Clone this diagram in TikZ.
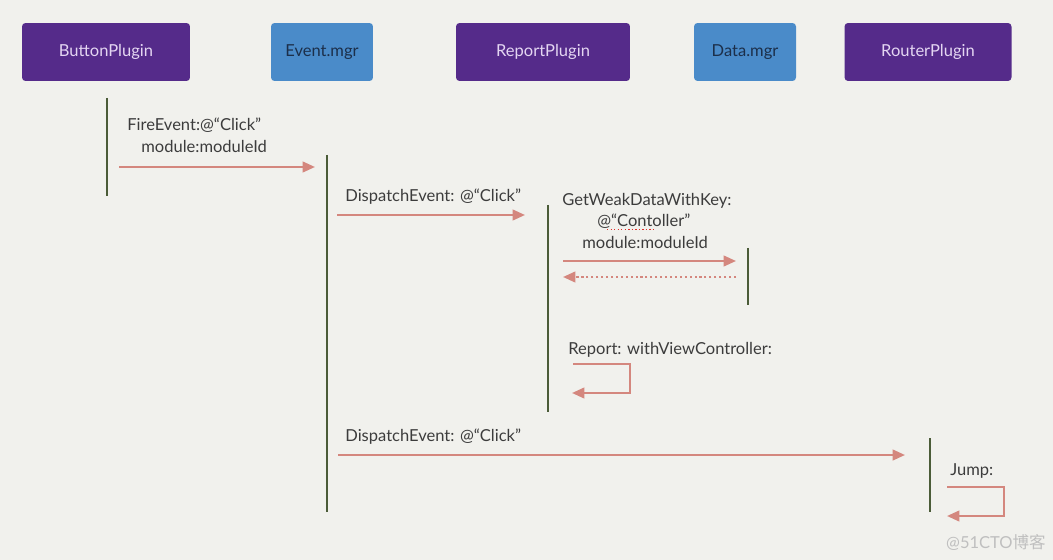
\documentclass[tikz,border=0pt]{standalone}
\usepackage{fontspec}
\setmainfont{Lato}
\newfontfamily\cjk{Noto Sans CJK SC}
\usetikzlibrary{arrows.meta}

\definecolor{paper}{HTML}{F1F1ED}
\definecolor{plugin}{HTML}{552B8A}
\definecolor{pluginText}{HTML}{E4D6F2}
\definecolor{mgr}{HTML}{4A8BC9}
\definecolor{mgrText}{HTML}{1C2F4A}
\definecolor{life}{HTML}{4B5C38}
\definecolor{msg}{HTML}{D4877E}
\definecolor{txt}{HTML}{3C3C3C}
\definecolor{spell}{HTML}{E0302A}

\tikzset{
  plugin box/.style={rectangle, rounded corners=2pt, fill=plugin, text=pluginText, minimum height=1.16cm},
  mgr box/.style={rectangle, rounded corners=2pt, fill=mgr, text=mgrText, minimum height=1.16cm, minimum width=2.04cm},
  lifeline/.style={draw=life, line width=1.3pt},
  call/.style={draw=msg, line width=1.3pt, -{Triangle[length=7pt, width=6pt]}},
  reply/.style={call, dash pattern=on 1.2pt off 1.6pt},
  label/.style={text=txt, anchor=west, inner sep=0pt}
}

\begin{document}
\begin{tikzpicture}[x=0.02cm, y=-0.02cm, font=\fontsize{9.4}{11}\selectfont]

\fill[paper] (0,0) rectangle (1053,560);

% participants
\node[plugin box, minimum width=3.36cm] (button) at (106,52) {ButtonPlugin};
\node[mgr box] (event) at (322,52) {Event.mgr};
\node[plugin box, minimum width=3.48cm] (report) at (543,52) {ReportPlugin};
\node[mgr box] (data) at (745,52) {Data.mgr};
\node[plugin box, minimum width=3.34cm] (router) at (928,52) {RouterPlugin};

% activation bars
\coordinate (b1) at (107,98);   \coordinate (b2) at (107,196);
\coordinate (e1) at (327,155);  \coordinate (e2) at (327,512);
\coordinate (r1) at (548,205);  \coordinate (r2) at (548,412);
\coordinate (d1) at (748,248);  \coordinate (d2) at (748,305);
\coordinate (j1) at (930,438);  \coordinate (j2) at (930,512);
\draw[lifeline] (b1) -- (b2);
\draw[lifeline] (e1) -- (e2);
\draw[lifeline] (r1) -- (r2);
\draw[lifeline] (d1) -- (d2);
\draw[lifeline] (j1) -- (j2);

% FireEvent
\node[label] (fire) at (127,125) {FireEvent:@“Click”};
\node[label] (fireMod) at (141,146) {module:moduleId};
\coordinate (f1) at (119,167);
\coordinate (f2) at (315,167);
\draw[call] (f1) -- (f2);

% DispatchEvent to ReportPlugin
\node[label] (disp) at (345,197) {DispatchEvent: @“Click”};
\coordinate (p1) at (337,215);
\coordinate (p2) at (525,215);
\draw[call] (p1) -- (p2);

% GetWeakDataWithKey
\node[label] (weak) at (562,201) {GetWeakDataWithKey:};
\node[label] (weakKey) at (597,221) {@“Contoller”};
\node[label] (weakMod) at (582,242) {module:moduleId};
\coordinate (ul1) at (607,229.5);
\coordinate (ul2) at (655,229.5);
\draw[spell, line width=0.8pt, dash pattern=on 0.8pt off 1.2pt] (ul1) -- (ul2);
\coordinate (w1) at (563,261);
\coordinate (w2) at (736,261);
\coordinate (w3) at (736,277);
\coordinate (w4) at (563,277);
\draw[call] (w1) -- (w2);
\draw[reply] (w3) -- (w4);

% Report: withViewController:
\node[label] (repView) at (568,350) {Report: withViewController:};
\coordinate (v1) at (573,364);
\coordinate (v2) at (572,393);
\draw[call] (v1) -- (630,364) -- (630,393) -- (v2);

% DispatchEvent to RouterPlugin
\node[label] (disp2) at (345,437) {DispatchEvent: @“Click”};
\coordinate (q1) at (338,455);
\coordinate (q2) at (905,455);
\draw[call] (q1) -- (q2);

% Jump:
\node[label] (jump) at (950,471) {Jump:};
\coordinate (u1) at (947,487);
\coordinate (u2) at (947,516);
\draw[call] (u1) -- (1004,487) -- (1004,516) -- (u2);

\node[text=black!25, anchor=east, inner sep=0pt] (mark) at (1046,542) {@51CTO{\cjk 博客}};

\end{tikzpicture}
\end{document}
